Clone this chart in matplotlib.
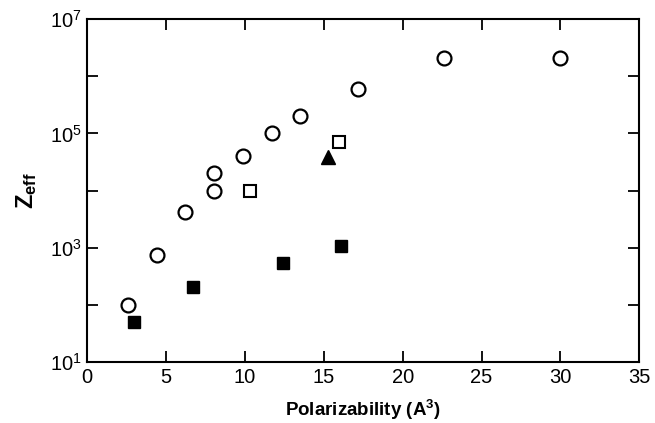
import matplotlib
matplotlib.use("Agg")
import matplotlib.pyplot as plt
from matplotlib.ticker import FixedLocator, NullLocator, NullFormatter

plt.rcParams['font.family'] = ['Liberation Sans', 'DejaVu Sans']
plt.rcParams['mathtext.fontset'] = 'custom'
plt.rcParams['mathtext.rm'] = 'Liberation Sans'
plt.rcParams['mathtext.it'] = 'Liberation Sans'
plt.rcParams['mathtext.bf'] = 'Liberation Sans:bold'

# Data
circ_x = [2.6, 4.4, 6.2, 8.05, 8.05, 9.9, 11.7, 13.5, 17.2, 22.65, 29.96]
circ_y = [100, 740, 4200, 1.0e4, 2.0e4, 4.0e4, 1.0e5, 2.0e5, 6.0e5, 2.1e6, 2.1e6]
fsq_x = [2.98, 6.7, 12.4, 16.1]
fsq_y = [50, 205, 550, 1070]
osq_x = [10.3, 15.95]
osq_y = [9.8e3, 7.0e4]
tri_x = [15.28]
tri_y = [3.8e4]

xticks = [0, 5, 10, 15, 20, 25, 30, 35]
ymajor = [1e1, 1e3, 1e5, 1e7]
ylabels = ['$\\mathrm{10^1}$', '$\\mathrm{10^3}$', '$\\mathrm{10^5}$', '$\\mathrm{10^7}$']
yminor = [1e2, 1e4, 1e6]

fig = plt.figure(figsize=(6.55, 4.23), dpi=100)
ax = fig.add_axes([0.133, 0.144, 0.843, 0.811])

ax.plot(circ_x, circ_y, 'o', ms=10, mfc='white', mec='black', mew=1.6, ls='none')
ax.plot(fsq_x, fsq_y, 's', ms=8.5, mfc='black', mec='black', ls='none')
ax.plot(osq_x, osq_y, 's', ms=8.5, mfc='white', mec='black', mew=1.5, ls='none')
ax.plot(tri_x, tri_y, '^', ms=10, mfc='black', mec='black', ls='none')

ax.set_yscale('log')
ax.set_xlim(0, 35)
ax.set_ylim(10, 1e7)
ax.xaxis.set_major_locator(FixedLocator(xticks))
ax.xaxis.set_minor_locator(NullLocator())
ax.yaxis.set_major_locator(FixedLocator(ymajor))
ax.set_yticklabels(ylabels)
ax.yaxis.set_minor_locator(FixedLocator(yminor))
ax.yaxis.set_minor_formatter(NullFormatter())
ax.tick_params(which='both', direction='in', top=True, right=True,
               length=8, width=1.3, labelsize=14.5, pad=4)
for s in ax.spines.values():
    s.set_linewidth(1.5)

ax.set_xlabel('Polarizability (A$^\\mathbf{3}$)', fontsize=13.5, fontweight='bold', labelpad=8)
ax.set_ylabel('Z$_{\\mathbf{eff}}$', fontsize=17, fontweight='bold', labelpad=8)

fig.savefig('out.png', dpi=100)
